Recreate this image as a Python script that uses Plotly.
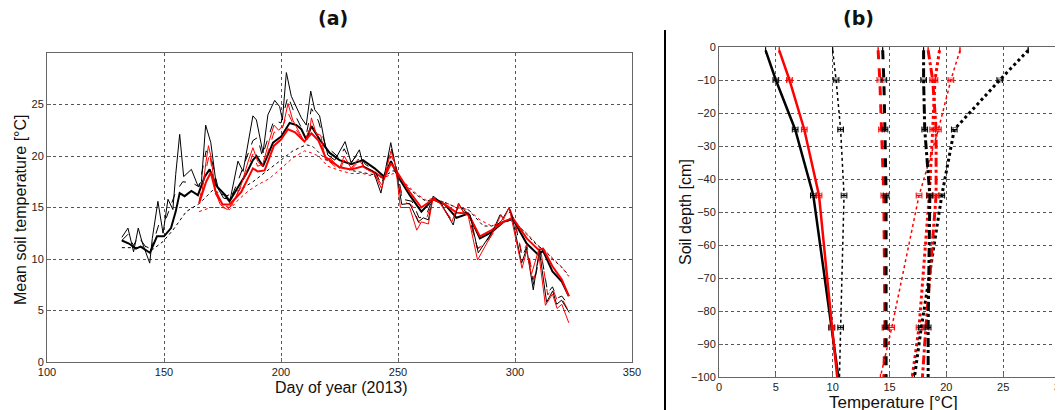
import plotly.graph_objects as go
from plotly.subplots import make_subplots

# ---- panel (a): mean soil temperature, (day, temp) ----
# black series, start day 132
blk_thin = [(132, 12.1), (134.6, 13.0), (137, 10.7), (139, 13.0), (140.7, 11.6), (143.9, 9.6),
            (145, 12.0), (147.4, 15.6), (149.6, 12.5), (151.7, 15.8), (153.8, 14.8), (155, 18.2),
            (156.7, 22.1), (158.4, 18.0), (161.7, 18.7), (164.5, 17.1), (166, 17.5), (167.8, 23.0),
            (170, 21.3), (172.4, 17.1), (175.5, 15.9), (178.3, 15.8), (181.6, 19.5), (183.8, 18.5),
            (188, 23.9), (189.5, 23.5), (192.3, 20.3), (194.4, 24.0), (197.3, 25.4), (199.4, 24.8),
            (200.6, 23.5), (202.3, 28.1), (204.4, 25.8), (206.6, 24.8), (208.7, 23.7), (210.8, 23.0),
            (212.7, 26.3), (214.4, 24.5), (216.5, 23.9), (218.7, 21.3), (220, 20.1), (223, 19.6),
            (227.4, 21.4), (230, 19.3), (233.5, 20.6), (235.2, 19.0), (239.5, 18.5), (242.7, 16.4),
            (243.7, 17.5), (246.9, 21.3), (248.7, 19.3), (251.6, 15.3), (255, 15.4), (258.7, 13.6),
            (260.8, 14.0), (263, 13.8), (265, 16.1), (268, 15.6), (273.6, 13.3), (275.8, 15.4),
            (277.9, 14.6), (280.8, 14.3), (284.3, 10.6), (287.9, 11.8), (290.7, 12.8), (293.6, 14.3),
            (295, 14.0), (297.5, 15.0), (299.3, 13.5), (302.8, 9.6), (305, 11.0), (307.8, 7.0),
            (310.4, 10.9), (313.5, 5.8), (316.1, 6.9), (317.8, 5.6), (319.9, 6.0), (323.2, 4.8)]
blk_dash = [(132, 11.8), (134.6, 12.4), (137, 11.3), (139, 12.2), (144, 10.6), (148, 13.5),
            (151, 14.0), (155, 16.5), (158, 17.5), (162, 17.4), (165, 17.0), (168, 20.5),
            (170, 20.0), (173, 17.0), (178, 15.5), (182, 17.8), (188, 21.5), (190, 21.8),
            (192, 20.0), (197, 23.5), (200, 23.2), (203, 25.8), (206, 24.0), (209, 22.6),
            (211, 22.3), (213, 24.6), (216, 23.4), (219, 21.0), (225, 19.8), (227, 20.7),
            (230, 19.4), (233, 20.2), (236, 19.2), (240, 18.6), (243, 17.2), (247, 20.8),
            (249, 19.2), (252, 15.8), (256, 15.6), (259, 14.0), (262, 14.2), (265, 16.0),
            (268, 15.5), (273, 13.6), (276, 15.2), (280, 14.4), (284, 11.0), (288, 11.8),
            (292, 13.2), (296, 14.2), (298, 14.6), (300, 13.6), (303, 10.2), (305, 11.2),
            (308, 7.5), (311, 10.8), (314, 6.7), (316, 7.3), (318, 6.2), (320, 6.4), (323, 5.5)]
blk_thick = [(132, 11.8), (135, 11.5), (138, 11.0), (140, 11.2), (144, 10.6), (147, 12.2),
             (150, 12.2), (153, 13.0), (155, 14.6), (156.7, 16.4), (158.8, 16.1), (161.7, 16.6),
             (164.5, 16.2), (167.4, 18.0), (169.5, 18.7), (172.4, 17.1), (176.6, 16.1), (178, 15.6),
             (180.9, 16.7), (185.2, 18.3), (188, 19.6), (189.5, 20.0), (192.3, 19.0), (196.6, 21.3),
             (200.1, 21.9), (203.7, 23.2), (206.6, 23.0), (208.7, 22.6), (210.8, 21.6), (213, 22.9),
             (216.5, 21.6), (220.8, 20.3), (225, 19.6), (230, 19.2), (235, 19.6), (240, 18.8),
             (244, 18.0), (247, 19.5), (250, 18.0), (255, 16.2), (260, 14.6), (265, 15.8),
             (270, 15.3), (275, 14.0), (280, 14.4), (285, 12.0), (290, 12.6), (295, 13.6),
             (299, 13.9), (305, 11.5), (310, 10.4), (312, 10.8), (316, 8.8), (320, 7.8), (323, 6.4)]
blk_dot = [(132, 11.1), (137, 11.1), (142.4, 11.2), (145, 10.9), (149.6, 11.7), (153.8, 12.8),
           (159.5, 14.6), (165.2, 15.4), (170.9, 16.7), (176.6, 16.1), (182.3, 16.7), (188, 17.5),
           (193.7, 18.5), (199.4, 19.5), (205.1, 20.5), (210.8, 21.1), (213.7, 20.9), (219.4, 19.6),
           (225, 19.0), (230, 18.6), (235, 18.4), (240, 18.2), (244, 18.0), (248, 18.6),
           (252, 17.4), (258, 16.2), (262, 15.6), (265, 15.8), (270, 15.5), (275, 15.0),
           (280, 14.8), (286.5, 13.2), (290, 13.2), (295, 13.6), (299, 13.8), (305, 12.4),
           (310, 11.2), (312, 11.0), (316, 10.0), (320, 9.2), (323, 8.4)]

# red series, start day 165
red_thin = [(165, 15.8), (166, 16.0), (168, 19.5), (169, 21.0), (170, 20.0), (172, 16.5),
            (174, 15.3), (177, 14.8), (179, 15.2), (183, 17.2), (186, 19.5), (188, 20.8),
            (190, 19.5), (192, 19.0), (195, 21.5), (197, 23.0), (199, 22.5), (201, 23.0),
            (203, 25.1), (205, 23.5), (208, 22.2), (210, 21.4), (212, 22.0), (213, 23.7),
            (215, 22.2), (217, 22.0), (219, 19.6), (221, 19.8), (225, 18.8), (227, 20.0),
            (230, 18.8), (233, 19.7), (236, 18.8), (240, 18.3), (243, 16.8), (247, 20.5),
            (249, 19.0), (251, 15.0), (255, 15.0), (258, 12.8), (260, 13.6), (263, 13.4),
            (265, 16.0), (268, 15.4), (273, 13.6), (276, 15.4), (278, 14.5), (280, 14.2),
            (284, 9.9), (288, 11.5), (291, 12.8), (294, 14.3), (295, 13.8), (297.5, 15.0),
            (299, 13.4), (303, 9.1), (305, 10.8), (307, 8.5), (310, 10.8), (313, 5.5),
            (316, 6.6), (318, 5.2), (320, 5.6), (323, 3.8)]
red_dash = [(165, 15.6), (168, 18.8), (169.5, 20.3), (172, 16.3), (175, 15.2), (178, 15.0),
            (183, 17.0), (188, 20.2), (190, 19.0), (193, 19.3), (197, 22.3), (200, 22.4),
            (203, 24.2), (206, 22.7), (210, 21.4), (213, 23.0), (216, 21.8), (219, 19.8),
            (225, 18.6), (227, 19.6), (230, 18.7), (233, 19.4), (236, 18.8), (240, 18.3),
            (243, 17.2), (247, 20.0), (249, 19.2), (252, 15.6), (256, 15.2), (259, 13.5),
            (262, 13.8), (265, 15.8), (268, 15.4), (273, 13.8), (276, 15.2), (280, 14.4),
            (284, 11.0), (288, 11.6), (292, 13.0), (295, 14.0), (298, 14.8), (300, 13.5),
            (303, 10.5), (305, 11.4), (308, 8.0), (311, 10.8), (314, 6.5), (316, 7.2),
            (318, 6.0), (320, 6.2), (323, 4.9)]
red_thick = [(165, 15.4), (168, 17.5), (170, 18.4), (172, 16.6), (175, 15.3), (178, 15.3),
             (183, 16.5), (188, 18.8), (190, 18.5), (193, 18.6), (197, 21.0), (200, 21.6),
             (203, 22.6), (206, 22.3), (210, 21.4), (213, 22.2), (216, 21.5), (219, 19.9),
             (225, 18.9), (230, 18.7), (235, 19.0), (240, 18.4), (244, 17.8), (247, 19.3),
             (250, 18.3), (255, 16.5), (260, 15.0), (265, 15.8), (270, 15.3), (275, 14.5),
             (280, 14.4), (285, 12.2), (290, 12.8), (295, 13.6), (299, 14.0), (305, 12.0),
             (310, 10.9), (312, 11.0), (316, 9.3), (320, 8.0), (323, 6.4)]
red_dot = [(165, 14.6), (170, 15.0), (175, 15.0), (178, 14.8), (182, 15.8), (186, 16.6),
           (190, 17.2), (195, 17.8), (200, 18.8), (205, 19.8), (210, 20.5), (213, 20.3),
           (216, 20.0), (220, 19.0), (225, 18.6), (230, 18.3), (235, 18.3), (240, 18.0),
           (244, 17.9), (248, 18.3), (252, 17.6), (258, 16.3), (262, 15.7), (265, 15.9),
           (270, 15.5), (275, 15.0), (280, 14.8), (285, 13.8), (290, 13.2), (295, 13.6),
           (299, 13.7), (305, 12.5), (310, 11.3), (312, 11.0), (316, 10.1), (320, 9.2), (323, 8.3)]

# ---- panel (b): temperature profiles ----
depths = [-1, -10, -25, -45, -85, -100]
prof_blk_solid = [4.1, 5.0, 6.7, 8.3, 9.9, 10.5]
prof_red_solid = [5.3, 6.2, 7.5, 8.8, 9.95, 10.4]
prof_blk_dot_thin = [10.0, 10.3, 10.7, 11.0, 10.7, 10.6]
prof_red_dash = [14.0, 14.15, 14.3, 14.5, 14.6, 14.5]
prof_blk_dash = [14.4, 14.5, 14.6, 14.7, 14.7, 14.7]
prof_red_dot_thin = [21.2, 20.4, 19.3, 17.6, 15.2, 14.2]
prof_blk_dashdot = [18.0, 18.0, 18.1, 18.55, 18.4, 18.4]
prof_red_dashdot = [18.4, 18.8, 19.1, 19.1, 18.2, 17.9]
prof_red_dot_thick = [19.4, 19.0, 18.8, 18.5, 17.6, 17.0]
prof_blk_dot_thick = [27.2, 24.7, 20.7, 19.6, 17.8, 17.2]
prof_err = [0, 0.25, 0.25, 0.25, 0.25, 0]

W, H = 1063, 410
OFF = 8  # the page body margin shifts the figure by 8 px


def px(x):
    return (x - OFF) / W


def py(y):
    return 1 - (y - OFF) / H


fig = make_subplots(rows=1, cols=2)

series_a = [
    (blk_dot, 'black', 1, 'dot'), (red_dot, 'red', 1, 'dot'),
    (blk_thick, 'black', 2, 'solid'), (red_thick, 'red', 2, 'solid'),
    (blk_dash, 'black', 1, 'dash'), (red_dash, 'red', 1, 'dash'),
    (blk_thin, 'black', 1, 'solid'), (red_thin, 'red', 1, 'solid'),
]
for pts, col, w, dash in series_a:
    fig.add_trace(go.Scatter(x=[p[0] for p in pts], y=[p[1] for p in pts], mode='lines',
                             line=dict(color=col, width=w, dash=dash), showlegend=False),
                  row=1, col=1)

series_b = [
    (prof_blk_solid, 'black', 2.5, 'solid'), (prof_red_solid, 'red', 2.5, 'solid'),
    (prof_blk_dot_thin, 'black', 1.5, 'dot'), (prof_red_dash, 'red', 3, 'dash'),
    (prof_blk_dash, 'black', 3, 'dash'), (prof_red_dot_thin, 'red', 1.5, 'dot'),
    (prof_red_dot_thick, 'red', 3, 'dot'), (prof_blk_dot_thick, 'black', 3, 'dot'),
    (prof_red_dashdot, 'red', 3, 'dashdot'), (prof_blk_dashdot, 'black', 3, 'dashdot'),
]
msize = [0, 4, 4, 4, 4, 0]
for vals, col, w, dash in series_b:
    fig.add_trace(go.Scatter(x=vals, y=depths, mode='lines+markers',
                             line=dict(color=col, width=w, dash=dash),
                             marker=dict(symbol='square-open', size=msize, color=col,
                                         opacity=0.5, line=dict(width=1, color=col)),
                             error_x=dict(type='data', array=prof_err, color=col,
                                          thickness=1, width=3),
                             showlegend=False),
                  row=1, col=2)

tick_font = dict(family='Liberation Sans, Arial', size=11, color='#222')
ax_common = dict(showline=True, mirror=True, linecolor='#666', linewidth=1,
                 showgrid=True, gridcolor='#555', gridwidth=1, griddash='dot',
                 zeroline=False, ticks='inside', ticklen=4, tickcolor='#666',
                 tickfont=tick_font, automargin=False)

fig.update_xaxes(domain=[px(47), px(632)], range=[100, 350], tickvals=[100, 150, 200, 250, 300, 350],
                 **ax_common, row=1, col=1)
fig.update_yaxes(domain=[py(362), py(53)], range=[0, 30], tickvals=[0, 5, 10, 15, 20, 25],
                 **ax_common, row=1, col=1)
fig.update_xaxes(domain=[px(719), px(1060)], range=[0, 30], tickvals=[0, 5, 10, 15, 20, 25, 30],
                 **ax_common, row=1, col=2)
fig.update_yaxes(domain=[py(377), py(47)], range=[-100, 0],
                 tickvals=[0, -10, -20, -30, -40, -50, -60, -70, -80, -90, -100],
                 **ax_common, row=1, col=2)

lab_font = dict(family='Liberation Sans, Arial', size=16, color='#111')
ttl_font = dict(family='DejaVu Sans', size=19, color='#111')
notes = [
    dict(text='<b>(a)</b>', x=px(333), y=py(18), font=ttl_font),
    dict(text='<b>(b)</b>', x=px(858), y=py(18), font=ttl_font),
    dict(text='Day of year (2013)', x=px(341), y=py(387), font=lab_font),
    dict(text='Mean soil temperature [°C]', x=px(20), y=py(210), font=lab_font, textangle=-90),
    dict(text='Soil depth [cm]', x=px(685), y=py(212), font=lab_font, textangle=-90),
    dict(text='Temperature [°C]', x=px(893), y=py(402), font=dict(lab_font, size=17)),
]
for n in notes:
    fig.add_annotation(xref='paper', yref='paper', showarrow=False,
                       xanchor='center', yanchor='middle', **n)

# separator between the panels
fig.add_shape(type='line', xref='paper', yref='paper', x0=px(665), x1=px(665),
              y0=py(418), y1=py(30), line=dict(color='black', width=2))

fig.update_layout(width=W, height=H, margin=dict(l=0, r=0, t=0, b=0),
                  paper_bgcolor='white', plot_bgcolor='white')
fig.write_html("out.html")
